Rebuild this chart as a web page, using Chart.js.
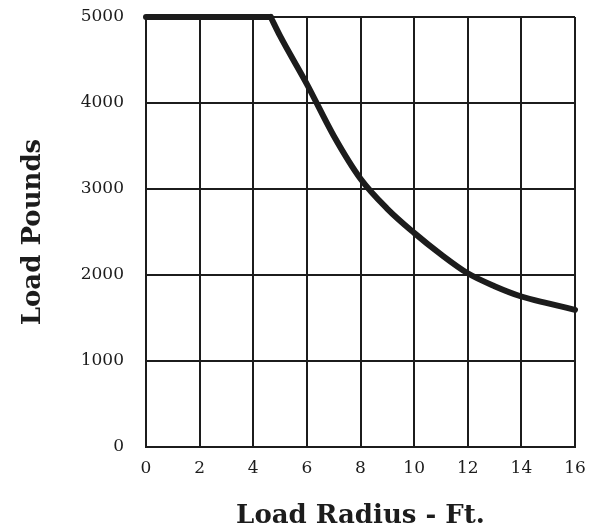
<!DOCTYPE html>
<html lang="en">
<head>
  <meta charset="UTF-8">
  <title>Load Chart</title>
  <script src="https://cdn.jsdelivr.net/npm/chart.js@4.4.1/dist/chart.umd.min.js"></script>
  <style>
    html, body { margin: 0; padding: 0; background: #fff; }
    #wrap { width: 600px; height: 529px; }
  </style>
</head>
<body>
  <div id="wrap"><canvas id="loadChart" width="600" height="529"></canvas></div>
  <script>
    // flat part of the rating (max load)
    var flatRadius = [0, 4.65];
    var flatLoad = [5000, 5000];

    // falling part
    var curveRadius = [4.65, 5, 6, 7, 8, 9, 10, 11, 12, 13, 14, 15, 16];
    var curveLoad = [5000, 4780, 4220, 3620, 3120, 2770, 2490, 2240, 2020, 1870, 1750, 1670, 1595];

    var xTicks = [0, 2, 4, 6, 8, 10, 12, 14, 16];
    var yTicks = [0, 1000, 2000, 3000, 4000, 5000];

    function pts(xs, ys) {
      return xs.map(function (x, i) { return { x: x, y: ys[i] }; });
    }

    var ink = '#1c1c1c';
    var lineStyle = {
      borderColor: ink,
      borderWidth: 6,
      pointRadius: 0,
      fill: false,
      clip: 6,
      borderCapStyle: 'round',
      borderJoinStyle: 'round'
    };

    new Chart(document.getElementById('loadChart'), {
      type: 'line',
      data: {
        datasets: [
          Object.assign({ data: pts(flatRadius, flatLoad), tension: 0 }, lineStyle),
          Object.assign({ data: pts(curveRadius, curveLoad), cubicInterpolationMode: 'monotone' }, lineStyle)
        ]
      },
      options: {
        responsive: false,
        animation: false,
        layout: { padding: { top: 17, right: 25, left: 0, bottom: 0 } },
        plugins: { legend: { display: false }, tooltip: { enabled: false } },
        scales: {
          x: {
            type: 'linear',
            min: 0, max: 16,
            afterBuildTicks: function (s) { s.ticks = xTicks.map(function (v) { return { value: v }; }); },
            afterFit: function (s) { s.height = 82; s.paddingLeft = 0; s.paddingRight = 0; },
            grid: { color: ink, lineWidth: 2, drawTicks: false },
            border: { color: ink, width: 2 },
            ticks: {
              color: ink, padding: 11, font: { family: 'DejaVu Serif', size: 17 },
              callback: function (v) { return String(v); }
            },
            title: {
              display: true, text: 'Load Radius - Ft.', color: ink,
              font: { family: 'DejaVu Serif', size: 26, weight: 'bold', lineHeight: 1 },
              padding: { top: 0, bottom: 0 }
            }
          },
          y: {
            min: 0, max: 5000,
            afterBuildTicks: function (s) { s.ticks = yTicks.map(function (v) { return { value: v }; }); },
            afterFit: function (s) { s.width = 146; s.paddingTop = 0; s.paddingBottom = 0; },
            grid: { color: ink, lineWidth: 2, drawTicks: false },
            border: { color: ink, width: 2 },
            ticks: {
              color: ink, padding: 22, font: { family: 'DejaVu Serif', size: 17 },
              callback: function (v) { return String(v); }
            },
            title: {
              display: true, text: 'Load Pounds', color: ink,
              font: { family: 'DejaVu Serif', size: 26, weight: 'bold', lineHeight: 1 },
              padding: { top: 20, bottom: 0 }
            }
          }
        }
      }
    });
  </script>
</body>
</html>
